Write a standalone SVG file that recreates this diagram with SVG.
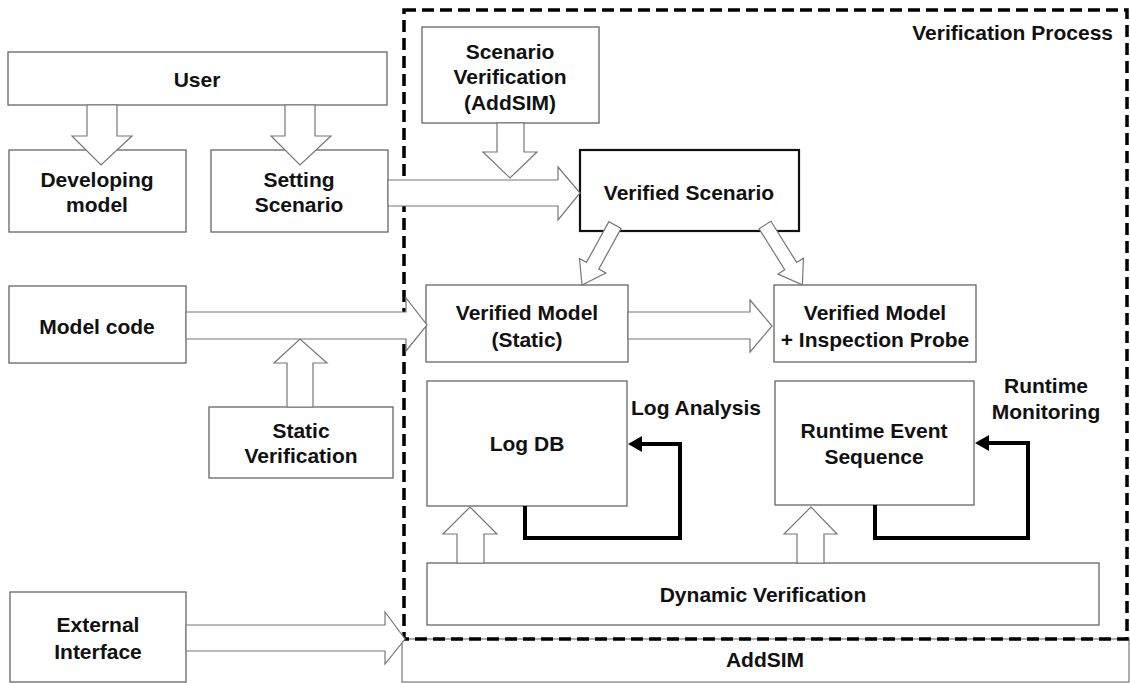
<svg xmlns="http://www.w3.org/2000/svg" width="1130" height="683" viewBox="0 0 1130 683">
<style>
.box{fill:#fff;stroke:#666;stroke-width:1.3}
.bold{fill:#fff;stroke:#111;stroke-width:2.2}
.blk{fill:#fff;stroke:#777;stroke-width:1.2}
.fb{fill:none;stroke:#000;stroke-width:4;stroke-linejoin:miter}
.hd{fill:#000}
text{font-family:"Liberation Sans",Arial,sans-serif;font-weight:bold;font-size:21px;fill:#111;text-anchor:middle}
</style>
<rect width="1130" height="683" fill="#fff"/>
<g id="addsim">
<rect x="402" y="639" width="727" height="43" fill="#fff" stroke="#777" stroke-width="1.2"/>
<text x="765" y="667">AddSIM</text>
</g>
<g id="verification-process">
<rect x="404" y="10" width="723" height="629" fill="none" stroke="#000" stroke-width="3.5" stroke-dasharray="12 6"/>
<text x="1113" y="40" style="text-anchor:end">Verification Process</text>
</g>
<g id="user"><rect class="box" x="8" y="52" width="379" height="53"/><text x="197" y="87">User</text></g>
<g id="developing-model"><rect class="box" x="9" y="150" width="177" height="82"/><text x="97" y="187">Developing</text><text x="97" y="212">model</text></g>
<g id="setting-scenario"><rect class="box" x="211" y="150" width="177" height="82"/><text x="299" y="187">Setting</text><text x="299" y="212">Scenario</text></g>
<g id="scenario-verification"><rect class="box" x="422" y="27" width="177" height="96"/><text x="510" y="59">Scenario</text><text x="510" y="84">Verification</text><text x="510" y="110">(AddSIM)</text></g>
<g id="verified-scenario"><rect class="bold" x="580" y="150" width="219" height="81"/><text x="689" y="200">Verified Scenario</text></g>
<g id="model-code"><rect class="box" x="9" y="286" width="177" height="77"/><text x="97" y="334">Model code</text></g>
<g id="static-verification"><rect class="box" x="209" y="407" width="184" height="71"/><text x="301" y="438">Static</text><text x="301" y="463">Verification</text></g>
<g id="verified-model-static"><rect class="box" x="426" y="285" width="202" height="77"/><text x="527" y="320">Verified Model</text><text x="527" y="347">(Static)</text></g>
<g id="verified-model-probe"><rect class="box" x="774" y="285" width="202" height="77"/><text x="875" y="320">Verified Model</text><text x="875" y="347">+ Inspection Probe</text></g>
<g id="log-db"><rect class="box" x="427" y="381" width="200" height="125"/><text x="527" y="451">Log DB</text></g>
<g id="log-analysis"><text x="696" y="415">Log Analysis</text></g>
<g id="runtime-event-sequence"><rect class="box" x="775" y="381" width="199" height="124"/><text x="874" y="438">Runtime Event</text><text x="874" y="464">Sequence</text></g>
<g id="runtime-monitoring"><text x="1046" y="393">Runtime</text><text x="1046" y="419">Monitoring</text></g>
<g id="dynamic-verification"><rect class="box" x="427" y="563" width="672" height="62"/><text x="763" y="602">Dynamic Verification</text></g>
<g id="external-interface"><rect class="box" x="10" y="592" width="176" height="90"/><text x="98" y="632">External</text><text x="98" y="659">Interface</text></g>
<g id="connectors">
<polygon class="blk" points="87,105 117,105 117,136 132,136 101,165 72,136 87,136"/>
<polygon class="blk" points="285,105 315,105 315,136 331,136 300,165 271,136 285,136"/>
<polygon class="blk" points="388,180 558,180 558,167 580,193 558,220 558,206 388,206"/>
<polygon class="blk" points="497,123 524,123 524,152 537,152 510,178 483,152 497,152"/>
<polygon class="blk" points="186,312 406,312 406,298 427,325 406,351 406,339 186,339"/>
<polygon class="blk" points="287,407 313,407 313,363 327,363 300,339 274,363 287,363"/>
<polygon class="blk" points="628,312 750,312 750,300 772,326 750,352 750,339 628,339"/>
<polygon class="blk" transform="translate(615,225) rotate(118.8)" points="0,-7 46.5,-7 46.5,-15 68.5,0 46.5,15 46.5,7 0,7"/>
<polygon class="blk" transform="translate(765,225) rotate(58)" points="0,-7 48.5,-7 48.5,-15 70.5,0 48.5,15 48.5,7 0,7"/>
<polygon class="blk" points="457,563 484,563 484,534 497,534 470,507 443,534 457,534"/>
<polygon class="blk" points="797,563 824,563 824,534 837,534 811,507 784,534 797,534"/>
<polygon class="blk" points="186,625 385,625 385,612 405,639 385,664 385,651 186,651"/>
<path class="fb" d="M525,506 V538 H680 V444 H640"/>
<polygon class="hd" points="628,444 642,436 642,452"/>
<path class="fb" d="M875,505 V538 H1028 V443 H987"/>
<polygon class="hd" points="975,443 989,435 989,451"/>
</g>
</svg>
